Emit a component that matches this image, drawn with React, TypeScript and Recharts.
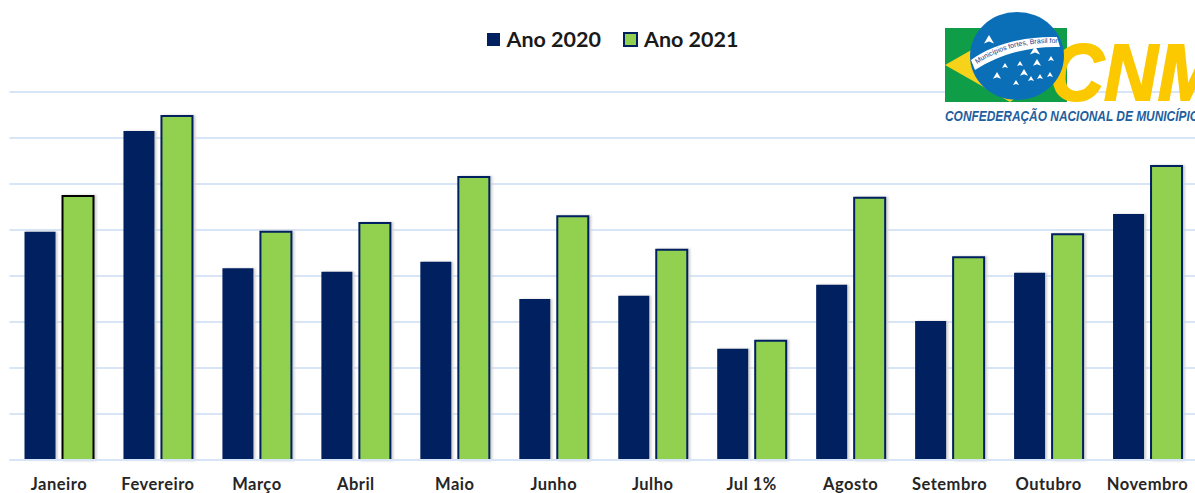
import { BarChart, Bar, XAxis, YAxis, CartesianGrid, Cell, Legend } from 'recharts';

const MONTHS = ['Janeiro', 'Fevereiro', 'Março', 'Abril', 'Maio', 'Junho', 'Julho', 'Jul 1%', 'Agosto', 'Setembro', 'Outubro', 'Novembro'];
const ANO_2020 = [4.96, 7.15, 4.17, 4.09, 4.31, 3.5, 3.57, 2.42, 3.81, 3.02, 4.07, 5.35];
const ANO_2021 = [5.74, 7.48, 4.96, 5.15, 6.15, 5.3, 4.57, 2.59, 5.7, 4.41, 4.91, 6.39];
const Y_TICKS = [0, 1, 2, 3, 4, 5, 6, 7, 8];

const NAVY = '#002060';
const GREEN = '#92d050';
const GRID = '#d8e5f6';
const FONT = 'Lato, sans-serif';

const data = MONTHS.map((month, i) => ({ month, a2020: ANO_2020[i], a2021: ANO_2021[i] }));

const STARS = [
  [989, 40, 5], [1035, 51, 5], [1005, 66, 3], [1020, 64, 3], [1037, 63, 4], [1051, 59, 3],
  [997, 76, 4], [1024, 73, 4], [1031, 79, 3], [1040, 77, 3], [1050, 75, 3], [1016, 83, 3],
];

function ChartLegend() {
  return (
    <div style={{ display: 'flex', alignItems: 'center', justifyContent: 'center', fontFamily: FONT, fontWeight: 700, fontSize: 21.5, color: '#1a1a1a', height: 28 }}>
      <span style={{ width: 13, height: 13, background: NAVY, marginRight: 7 }} />
      <span style={{ marginRight: 22 }}>Ano 2020</span>
      <span style={{ width: 11, height: 11, background: GREEN, border: `2px solid ${NAVY}`, marginRight: 6 }} />
      <span>Ano 2021</span>
    </div>
  );
}

function Logo() {
  return (
    <svg width={1195} height={130} style={{ position: 'absolute', left: 0, top: 0, pointerEvents: 'none' }}>
      <rect x={945} y={28} width={122} height={74} fill="#0f9d48" />
      <polygon points="945,65 1010,28 1070,60 1010,102" fill="#f6d21a" />
      <text x={1050} y={100} fontFamily="Liberation Sans" fontWeight={700} fontStyle="italic" fontSize={80} fill="#fcc800" stroke="#fcc800" strokeWidth={2} textLength={170} lengthAdjust="spacingAndGlyphs">CNM</text>
      <ellipse cx={1017} cy={56} rx={47} ry={44} fill="#0b6fb8" />
      <path d="M971,60 C995,42 1030,36 1057,37 L1060,47 C1030,46 1000,54 975,70 Z" fill="#fff" />
      <path id="cnm-band-text" d="M977,64 C1000,48 1030,42 1057,43" fill="none" />
      <text fontFamily="Liberation Sans" fontSize={7} fill="#12408c">
        <textPath href="#cnm-band-text">Municípios fortes, Brasil forte</textPath>
      </text>
      {STARS.map(([x, y, r], i) => (
        <polygon key={i} points={`${x},${y - r} ${x + r},${y + r * 0.7} ${x},${y + r * 0.3} ${x - r},${y + r * 0.7}`} fill="#fff" />
      ))}
      <text x={945} y={121} fontFamily="Liberation Sans" fontWeight={700} fontStyle="italic" fontSize={14} fill="#1f5f9e" textLength={262} lengthAdjust="spacingAndGlyphs">CONFEDERAÇÃO NACIONAL DE MUNICÍPIOS</text>
    </svg>
  );
}

export default function App() {
  return (
    <div style={{ position: 'absolute', left: 0, top: 0, width: 1195, height: 493, overflow: 'hidden', background: '#fff' }}>
      <BarChart
        width={1197}
        height={493}
        data={data}
        margin={{ top: 64, right: 0, bottom: 0, left: 9.5 }}
        barSize={31}
        barGap={7}
      >
        <CartesianGrid horizontal vertical={false} stroke={GRID} strokeWidth={2} />
        <XAxis
          dataKey="month"
          height={33}
          interval={0}
          tickLine={false}
          axisLine={{ stroke: GRID, strokeWidth: 2 }}
          tickMargin={12}
          tick={{ fontFamily: FONT, fontWeight: 700, fontSize: 16.5, letterSpacing: 0.5, fill: '#262626' }}
        />
        <YAxis hide domain={[0, 8]} ticks={Y_TICKS} />
        <Legend verticalAlign="top" content={<ChartLegend />} wrapperStyle={{ top: 25, left: 0, width: 1225 }} />
        <Bar dataKey="a2020" fill={NAVY} isAnimationActive={false} style={{ filter: 'drop-shadow(2px 0 1px #d0d0d0)' }} />
        <Bar dataKey="a2021" fill={GREEN} stroke={NAVY} strokeWidth={2} isAnimationActive={false} style={{ filter: 'drop-shadow(2px 0 1px #d0d0d0)' }}>
          {MONTHS.map((m, i) => (
            <Cell key={m} stroke={i === 0 ? '#000000' : NAVY} />
          ))}
        </Bar>
      </BarChart>
      <Logo />
    </div>
  );
}
